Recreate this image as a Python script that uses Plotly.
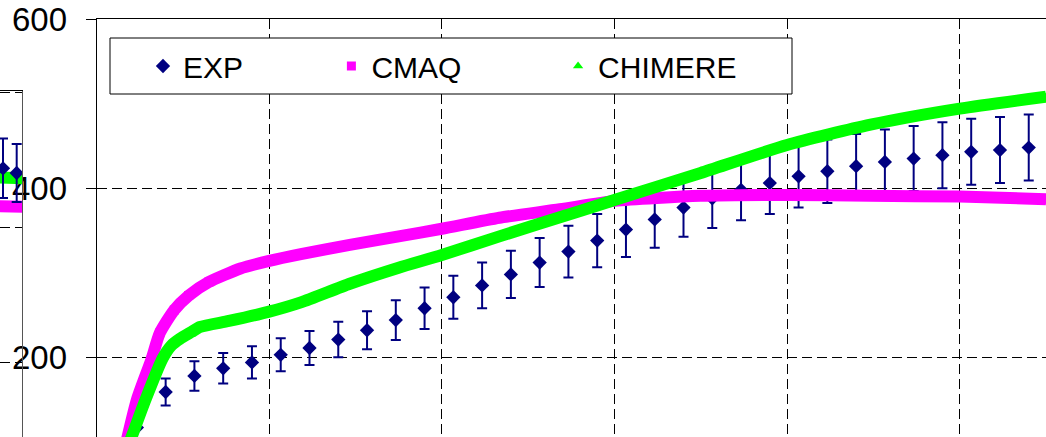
import plotly.graph_objects as go

# ---------------- main panel data ----------------
EXP_X = [14, 24, 34, 44, 54, 64, 74, 84, 94, 104, 114, 124, 134, 144, 154, 164,
         174, 184, 194, 204, 214, 224, 234, 244, 254, 264, 274, 284, 294, 304, 314, 324]
EXP_Y = [117, 159, 178, 187, 194, 203, 211, 221, 232, 244, 258, 271, 285, 298, 312, 325,
         338, 351, 363, 377, 388, 398, 406, 414, 420, 426, 431, 435, 439, 443, 445, 448]
EXP_ERR = [15, 16, 17.5, 18, 19, 19.5, 20, 21, 22.5, 23.5, 24.5, 25.5, 27, 28, 29, 30.5,
           31.5, 32.5, 33.5, 34.5, 35, 36, 36.5, 37, 37.5, 38, 38.5, 38.5, 39, 39, 39, 39]

CMAQ_X = [10, 14, 19, 22, 27, 32, 39, 50, 60, 71, 88, 105, 120, 140, 161, 180, 210, 240, 269, 300, 330]
CMAQ_Y = [95, 150, 197, 229, 256, 273, 289, 305, 314, 322, 333, 343, 352, 365, 375, 385, 391, 392, 391, 390, 387]

CHIM_X = [11, 17, 23, 26, 29, 33, 36, 46, 60, 71, 88, 105, 120, 140, 168, 180, 210, 240, 269, 300, 330]
CHIM_Y = [95, 150, 199, 214, 222, 230, 236, 243, 254, 265, 287, 306, 321, 343, 373, 386, 418, 451, 475, 494, 508]

Y_TICKS = [200, 400, 600]
Y_LABELS = ["200", "400", "600"]

# ---------------- neighbouring panel fragment (left edge) ----------------
EXP_B_X = [310, 320]
EXP_B_Y = [488, 481]
EXP_B_ERR = [44, 43]
CMAQ_B_X = [300, 330]
CMAQ_B_Y = [432, 431]
CHIM_B_X = [300, 330]
CHIM_B_Y = [475, 473]

NAVY = "#000080"
MAGENTA = "#FF00FF"
GREEN = "#00FF00"
FONT = "Arial, Liberation Sans, sans-serif"
NB = "\u00a0"

W, H = 1046, 437
TOP, BOT = 19, 0
PH = H - TOP - BOT

fig = go.Figure()

# main panel
fig.add_trace(go.Scatter(
    x=EXP_X, y=EXP_Y, mode="markers", name="EXP" + NB * 10,
    marker=dict(symbol="diamond", size=11, color=NAVY),
    error_y=dict(type="data", array=EXP_ERR, color=NAVY, thickness=2, width=5),
    xaxis="x", yaxis="y"))
fig.add_trace(go.Scatter(
    x=CMAQ_X, y=CMAQ_Y, mode="lines", showlegend=False,
    line=dict(color=MAGENTA, width=12, shape="spline", smoothing=0.6),
    xaxis="x", yaxis="y"))
fig.add_trace(go.Scatter(
    x=CMAQ_X, y=CMAQ_Y, mode="markers", name="CMAQ" + NB * 11,
    marker=dict(symbol="square", size=9, color=MAGENTA),
    xaxis="x", yaxis="y"))
fig.add_trace(go.Scatter(
    x=CHIM_X, y=CHIM_Y, mode="lines", showlegend=False,
    line=dict(color=GREEN, width=12, shape="spline", smoothing=0.6),
    xaxis="x", yaxis="y"))
fig.add_trace(go.Scatter(
    x=CHIM_X, y=CHIM_Y, mode="markers", name="CHIMERE" + NB * 5,
    marker=dict(symbol="triangle-up", size=9, color=GREEN),
    xaxis="x", yaxis="y"))

# fragment of the neighbouring panel
fig.add_trace(go.Scatter(
    x=CMAQ_B_X, y=CMAQ_B_Y, mode="lines", showlegend=False,
    line=dict(color=MAGENTA, width=12), xaxis="x2", yaxis="y2"))
fig.add_trace(go.Scatter(
    x=CHIM_B_X, y=CHIM_B_Y, mode="lines", showlegend=False,
    line=dict(color=GREEN, width=12), xaxis="x2", yaxis="y2"))
fig.add_trace(go.Scatter(
    x=EXP_B_X, y=EXP_B_Y, mode="markers", showlegend=False,
    marker=dict(symbol="diamond", size=11, color=NAVY),
    error_y=dict(type="data", array=EXP_B_ERR, color=NAVY, thickness=2, width=5),
    xaxis="x2", yaxis="y2"))

px2py = lambda p: (H - BOT - p) / PH  # pixel row -> paper y
px2px = lambda p: p / W

# legend box
fig.add_shape(type="rect", xref="paper", yref="paper",
              x0=px2px(110), x1=px2px(792), y0=px2py(94), y1=px2py(38),
              line=dict(color="black", width=1), fillcolor="white", layer="above")

grid = dict(showgrid=True, gridcolor="black", gridwidth=1, griddash="10px,5px")

fig.update_layout(
    width=W, height=H,
    margin=dict(l=0, r=0, t=TOP, b=BOT, pad=0, autoexpand=False),
    paper_bgcolor="white", plot_bgcolor="white",
    font=dict(family=FONT, color="black"),
    showlegend=True,
    legend=dict(orientation="h", x=px2px(143), xanchor="left",
                y=px2py(66), yanchor="middle",
                bgcolor="rgba(0,0,0,0)", borderwidth=0,
                font=dict(size=30, family=FONT, color="black")),
    xaxis=dict(domain=[px2px(96.6), 1], range=[0, 330], side="top",
               showline=True, linecolor="black", linewidth=1, automargin=False,
               ticks="", showticklabels=False, dtick=60, tick0=0,
               zeroline=False, anchor="y", **grid),
    yaxis=dict(domain=[0, 1], range=[105.8, 600], showline=True, linecolor="black",
               linewidth=1, ticks="outside", ticklen=10, tickcolor="black", tickwidth=1,
               tickvals=Y_TICKS, ticktext=Y_LABELS, ticklabelstandoff=12, automargin=False,
               tickfont=dict(size=33, family=FONT, color="black"),
               zeroline=False, anchor="x", **grid),
    xaxis2=dict(domain=[0, px2px(22.3)], range=[307.8, 324.1], side="top",
                showline=True, linecolor="black", linewidth=1, automargin=False,
                showgrid=False, ticks="", showticklabels=False,
                zeroline=False, anchor="y2"),
    yaxis2=dict(domain=[0, px2py(91)], range=[89.9, 602.5], side="right",
                showline=True, linecolor="#555555", linewidth=1, automargin=False,
                ticks="", showticklabels=False, dtick=200, tick0=0,
                zeroline=False, anchor="x2", **grid),
)

fig.write_html("out.html", config={"displayModeBar": False},
               post_script="document.body.style.margin='0';document.body.style.overflow='hidden';")
